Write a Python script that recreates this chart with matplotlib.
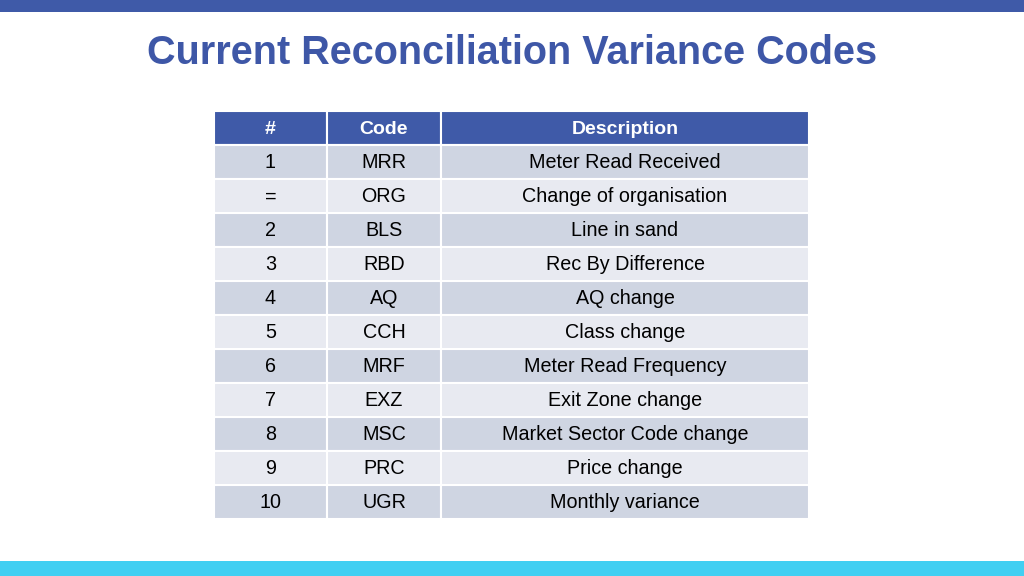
import matplotlib.pyplot as plt
from matplotlib.patches import Rectangle

plt.rcParams['font.family'] = ['Liberation Sans', 'DejaVu Sans']

title = "Current Reconciliation Variance Codes"
headers = ["#", "Code", "Description"]
nums = ["1", "=", "2", "3", "4", "5", "6", "7", "8", "9", "10"]
codes = ["MRR", "ORG", "BLS", "RBD", "AQ", "CCH", "MRF", "EXZ", "MSC", "PRC", "UGR"]
descriptions = ["Meter Read Received", "Change of organisation", "Line in sand",
                "Rec By Difference", "AQ change", "Class change", "Meter Read Frequency",
                "Exit Zone change", "Market Sector Code change", "Price change",
                "Monthly variance"]

blue = "#3F5AA8"
dark_row = "#CFD5E2"
light_row = "#E8EAF1"

fig = plt.figure(figsize=(10.24, 5.76), dpi=100)
ax = fig.add_axes([0, 0, 1, 1])
ax.set_xlim(0, 1024)
ax.set_ylim(576, 0)
ax.axis("off")

# top and bottom bands
ax.add_patch(Rectangle((0, 0), 1024, 12, color=blue, lw=0))
ax.add_patch(Rectangle((0, 561), 1024, 15, color="#41CFF2", lw=0))

ax.text(512, 64, title, ha="center", va="baseline", fontsize=28.5,
        fontweight="bold", color="#3E57A7")

col_x = [214, 327, 441, 809]
top = 111
row_h = 34.0

# header row
for j, h in enumerate(headers):
    x0, x1 = col_x[j], col_x[j + 1]
    ax.add_patch(Rectangle((x0, top), x1 - x0, row_h, facecolor=blue,
                           edgecolor="white", lw=1.5))
    ax.text((x0 + x1) / 2, top + row_h / 2 + 1, h, ha="center", va="center",
            fontsize=14, fontweight="bold", color="white")

# body rows
for i in range(len(codes)):
    y0 = top + row_h * (i + 1)
    fc = dark_row if i % 2 == 0 else light_row
    vals = [nums[i], codes[i], descriptions[i]]
    for j, v in enumerate(vals):
        x0, x1 = col_x[j], col_x[j + 1]
        ax.add_patch(Rectangle((x0, y0), x1 - x0, row_h, facecolor=fc,
                               edgecolor="white", lw=1.5))
        ax.text((x0 + x1) / 2, y0 + row_h / 2 + 1, v, ha="center", va="center",
                fontsize=14.2, color="black")

fig.savefig("out.png", dpi=100)
